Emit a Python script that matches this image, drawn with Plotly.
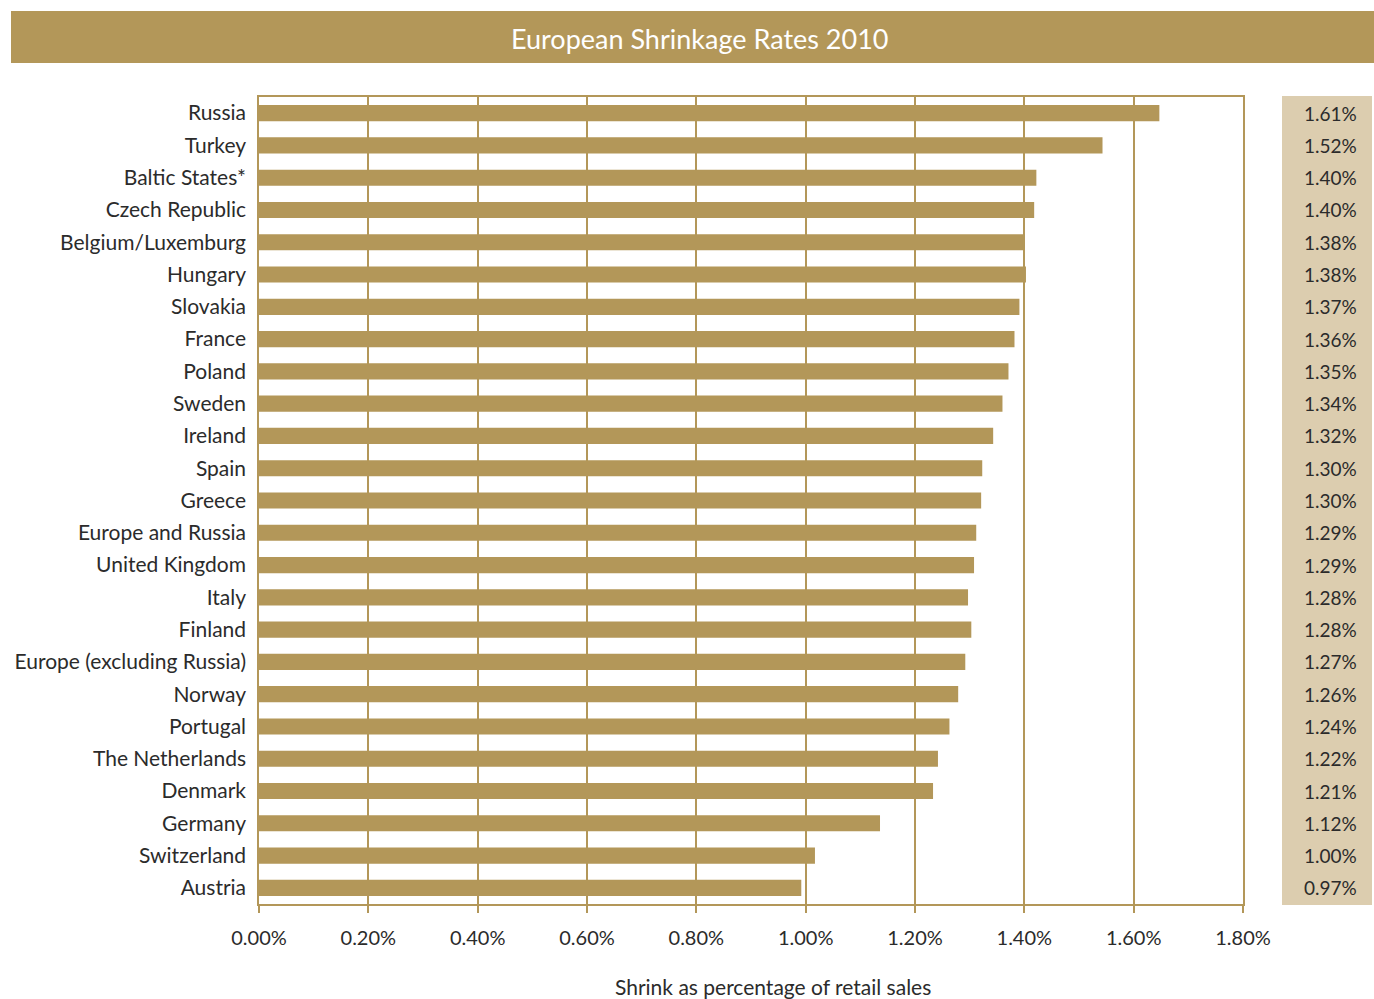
import plotly.graph_objects as go

countries = ["Russia", "Turkey", "Baltic States*", "Czech Republic", "Belgium/Luxemburg",
             "Hungary", "Slovakia", "France", "Poland", "Sweden", "Ireland", "Spain",
             "Greece", "Europe and Russia", "United Kingdom", "Italy", "Finland",
             "Europe (excluding Russia)", "Norway", "Portugal", "The Netherlands",
             "Denmark", "Germany", "Switzerland", "Austria"]
bar_values = [1.647, 1.543, 1.422, 1.418, 1.398, 1.403, 1.391, 1.382, 1.371, 1.360,
              1.343, 1.323, 1.321, 1.312, 1.308, 1.297, 1.303, 1.292, 1.279, 1.263,
              1.242, 1.233, 1.136, 1.017, 0.992]
value_labels = ["1.61%", "1.52%", "1.40%", "1.40%", "1.38%", "1.38%", "1.37%", "1.36%",
                "1.35%", "1.34%", "1.32%", "1.30%", "1.30%", "1.29%", "1.29%", "1.28%",
                "1.28%", "1.27%", "1.26%", "1.24%", "1.22%", "1.21%", "1.12%", "1.00%",
                "0.97%"]
x_ticks = [0.0, 0.2, 0.4, 0.6, 0.8, 1.0, 1.2, 1.4, 1.6, 1.8]
x_tick_text = ["0.00%", "0.20%", "0.40%", "0.60%", "0.80%", "1.00%", "1.20%", "1.40%",
               "1.60%", "1.80%"]

GOLD = "#B39759"
BEIGE = "#DCCDAF"
TEXT = "#2b2b2b"
FONT = "Lato"

W, H = 1374, 999
ML, MR, MT, MB = 259, 131, 97, 95
PW, PH = W - ML - MR, H - MT - MB

def px(x):
    return (x - ML) / PW

def py(y):
    return 1 - (y - MT) / PH

fig = go.Figure(go.Bar(
    x=bar_values, y=countries, orientation="h",
    marker=dict(color=GOLD, line=dict(width=0)),
    width=0.5, hoverinfo="skip",
))

shapes = [
    dict(type="rect", xref="paper", yref="paper", x0=px(11), x1=px(1374),
         y0=py(63), y1=py(11), fillcolor=GOLD, line=dict(width=0), layer="below"),
    dict(type="rect", xref="paper", yref="paper", x0=px(1282), x1=px(1372),
         y0=py(905), y1=py(96), fillcolor=BEIGE, line=dict(width=0), layer="below"),
]

annotations = [
    dict(text="European Shrinkage Rates 2010", xref="paper", yref="paper",
         x=px(700), y=py(38), showarrow=False, xanchor="center", yanchor="middle",
         font=dict(family=FONT, size=27, color="white")),
    dict(text="Shrink as percentage of retail sales", xref="paper", yref="paper",
         x=px(773), y=py(986), showarrow=False, xanchor="center", yanchor="middle",
         font=dict(family=FONT, size=21, color=TEXT)),
]
for c, lab in zip(countries, value_labels):
    annotations.append(dict(text=lab, xref="paper", yref="y", x=px(1359), y=c,
                            showarrow=False, xanchor="right", yanchor="middle",
                            font=dict(family=FONT, size=19, color=TEXT)))

fig.update_layout(
    width=W, height=H,
    margin=dict(l=ML, r=MR, t=MT, b=MB),
    paper_bgcolor="white", plot_bgcolor="white",
    showlegend=False,
    shapes=shapes, annotations=annotations,
    bargap=0.5,
    xaxis=dict(range=[0, 1.8], tickvals=x_ticks, ticktext=x_tick_text,
               showgrid=True, gridcolor=GOLD, gridwidth=1.5,
               showline=True, linecolor=GOLD, linewidth=1.5, mirror=True,
               ticks="outside", ticklen=7, tickcolor=GOLD, tickwidth=1.5,
               tickfont=dict(family=FONT, size=20, color=TEXT),
               ticklabelstandoff=8, zeroline=False, fixedrange=True),
    yaxis=dict(categoryorder="array", categoryarray=countries, autorange="reversed",
               showline=True, linecolor=GOLD, linewidth=1.5, mirror=True,
               showgrid=False, ticks="", ticklabelstandoff=7,
               tickfont=dict(family=FONT, size=21, color=TEXT), fixedrange=True),
)

fig.write_html("out.html")
